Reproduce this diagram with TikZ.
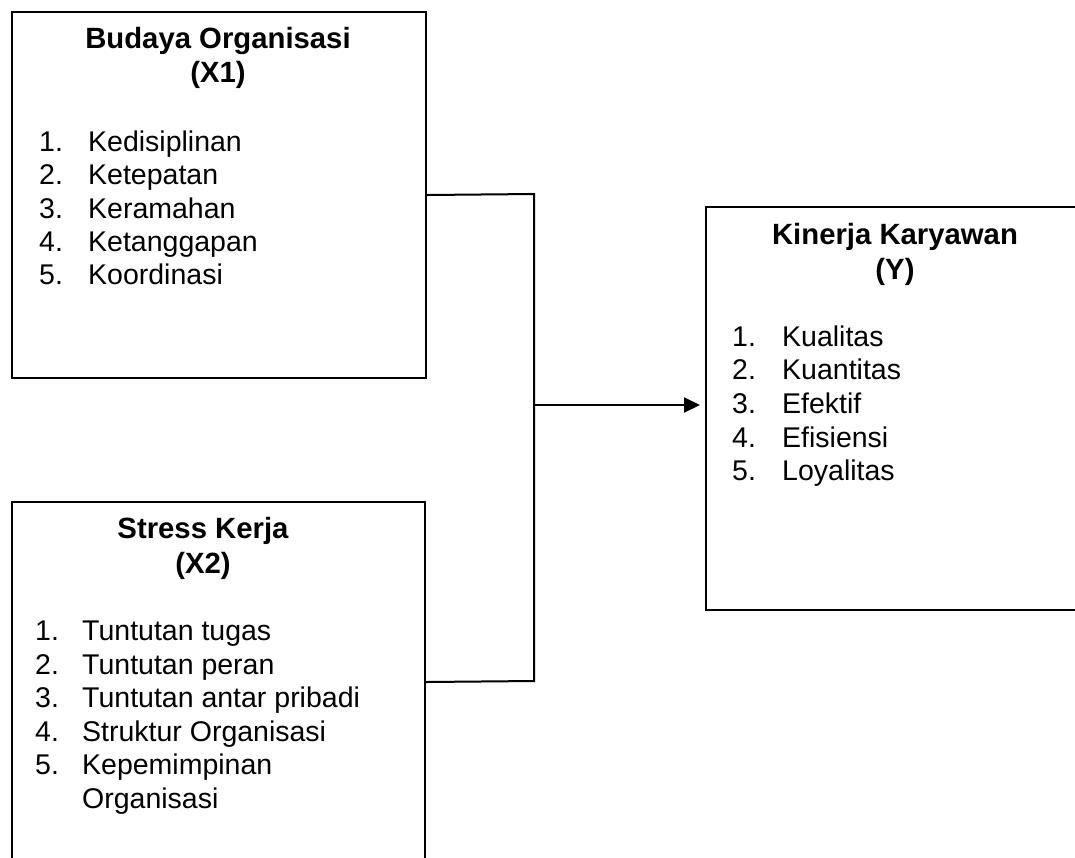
\documentclass[tikz,border=0pt]{standalone}
\usepackage{fontspec}
\setmainfont{Liberation Sans}
\usetikzlibrary{arrows.meta}
\begin{document}
\begin{tikzpicture}[x=1pt,y=-1pt,
  box/.style={draw=black, line width=2pt, rectangle, anchor=north west, inner sep=0pt},
  ttl/.style={anchor=base, inner sep=0pt, font=\fontsize{29.3}{34}\selectfont\bfseries},
  itm/.style={anchor=base west, inner sep=0pt, font=\fontsize{28.5}{34}\selectfont},
  conn/.style={draw=black, line width=2pt}]
\clip (0,0) rectangle (1075,857);
% boxes
\node[box, minimum width=414pt, minimum height=366pt] (x1) at (11,11) {};
\node[box, minimum width=413pt, minimum height=360pt] (x2) at (11,501) {};
\node[box, minimum width=385pt, minimum height=403pt] (y) at (705,206) {};
% X1 text
\node[ttl] (x1t1) at (218,48) {Budaya Organisasi};
\node[ttl] (x1t2) at (218,82) {(X1)};
\node[itm] (x1n1) at (39,151) {1.}; \node[itm] (x1i1) at (88,151) {Kedisiplinan};
\node[itm] (x1n2) at (39,184) {2.}; \node[itm] (x1i2) at (88,184) {Ketepatan};
\node[itm] (x1n3) at (39,218) {3.}; \node[itm] (x1i3) at (88,218) {Keramahan};
\node[itm] (x1n4) at (39,251) {4.}; \node[itm] (x1i4) at (88,251) {Ketanggapan};
\node[itm] (x1n5) at (39,284) {5.}; \node[itm] (x1i5) at (88,284) {Koordinasi};
% X2 text
\node[ttl] (x2t1) at (203,538) {Stress Kerja};
\node[ttl] (x2t2) at (203,573) {(X2)};
\node[itm] (x2n1) at (35,640) {1.}; \node[itm] (x2i1) at (82,640) {Tuntutan tugas};
\node[itm] (x2n2) at (35,674) {2.}; \node[itm] (x2i2) at (82,674) {Tuntutan peran};
\node[itm] (x2n3) at (35,707) {3.}; \node[itm] (x2i3) at (82,707) {Tuntutan antar pribadi};
\node[itm] (x2n4) at (35,741) {4.}; \node[itm] (x2i4) at (82,741) {Struktur Organisasi};
\node[itm] (x2n5) at (35,774) {5.}; \node[itm] (x2i5) at (82,774) {Kepemimpinan};
\node[itm] (x2i6) at (82,808) {Organisasi};
% Y text
\node[ttl] (yt1) at (895,244) {Kinerja Karyawan};
\node[ttl] (yt2) at (895,279) {(Y)};
\node[itm] (yn1) at (732,346) {1.}; \node[itm] (yi1) at (782,346) {Kualitas};
\node[itm] (yn2) at (732,379) {2.}; \node[itm] (yi2) at (782,379) {Kuantitas};
\node[itm] (yn3) at (732,413) {3.}; \node[itm] (yi3) at (782,413) {Efektif};
\node[itm] (yn4) at (732,447) {4.}; \node[itm] (yi4) at (782,447) {Efisiensi};
\node[itm] (yn5) at (732,480) {5.}; \node[itm] (yi5) at (782,480) {Loyalitas};
% connectors
\coordinate (jt) at (534,194);
\coordinate (jb) at (534,681);
\coordinate (jm) at (534,405);
\draw[conn] (x1.east) -- (jt) -- (jb) -- (x2.east);
\draw[conn, -{Triangle[length=16pt,width=15pt]}, shorten >=5pt] (jm) -- (jm -| y.west);
\end{tikzpicture}
\end{document}
